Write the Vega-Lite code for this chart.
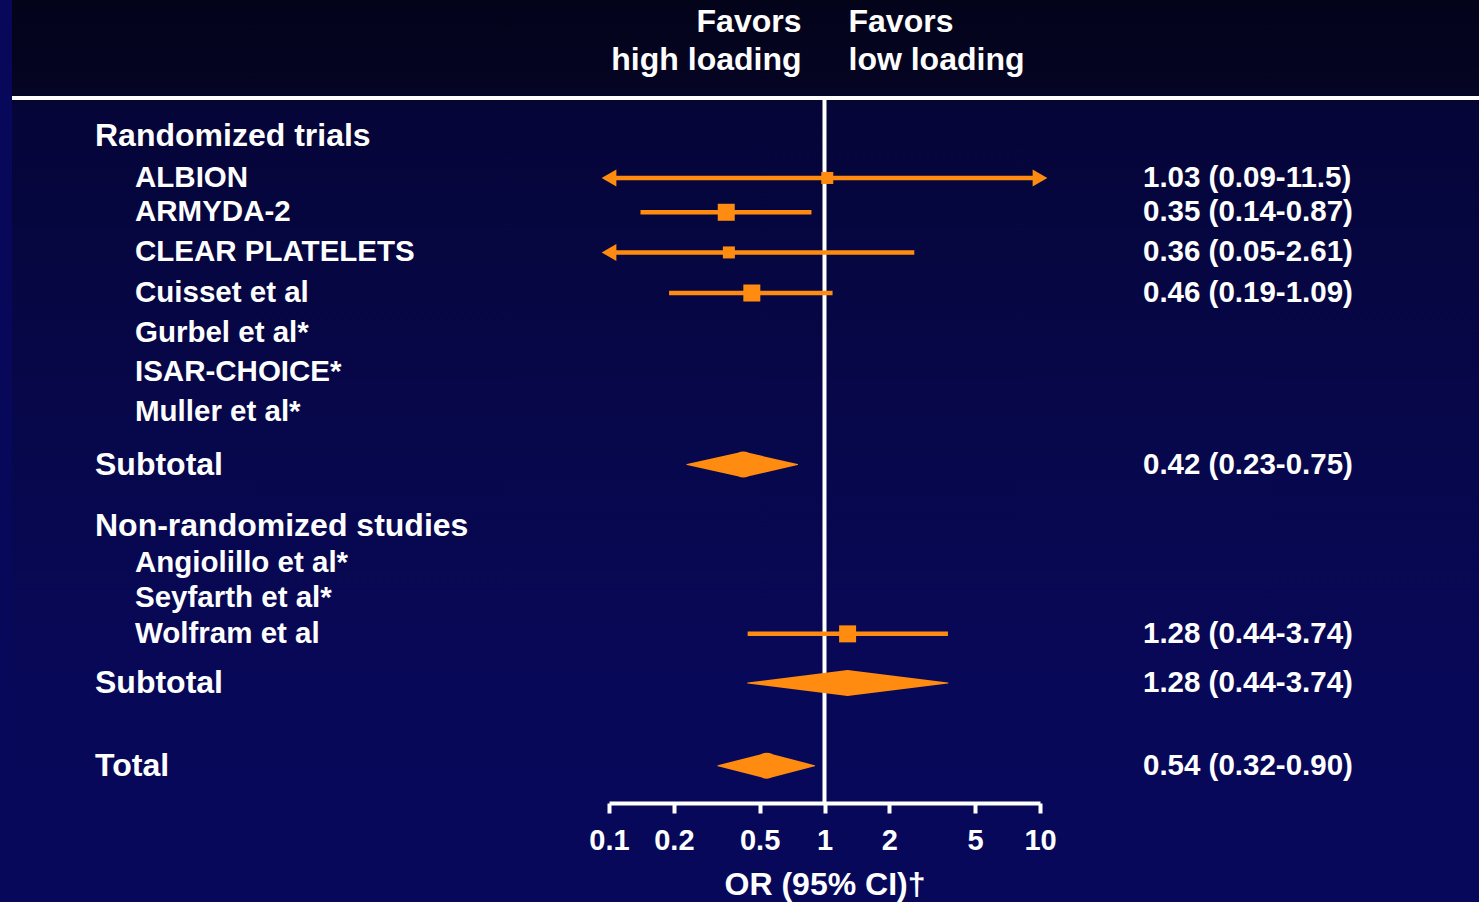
{
  "$schema": "https://vega.github.io/schema/vega-lite/v6.json",
  "width": 1467,
  "height": 803,
  "autosize": {"type": "none"},
  "padding": {"left": 12, "top": 0, "right": 0, "bottom": 99},
  "background": "#08085a",
  "config": {
    "view": {
      "stroke": null,
      "fill": {
        "gradient": "linear",
        "x1": 0, "y1": 0, "x2": 0, "y2": 1,
        "stops": [
          {"offset": 0, "color": "#03031a"},
          {"offset": 0.115, "color": "#050524"},
          {"offset": 0.13, "color": "#050538"},
          {"offset": 0.5, "color": "#07074a"},
          {"offset": 0.85, "color": "#080858"},
          {"offset": 1, "color": "#08085a"}
        ]
      }
    },
    "axisX": {
      "domainColor": "#ffffff",
      "domainWidth": 4,
      "tickColor": "#ffffff",
      "tickWidth": 4,
      "tickSize": 10,
      "labelColor": "#ffffff",
      "labelFont": "Liberation Sans",
      "labelFontWeight": "bold",
      "labelFontSize": 29,
      "labelPadding": 13,
      "labelFlush": false,
      "labelOverlap": false,
      "titleColor": "#ffffff",
      "titleFont": "Liberation Sans",
      "titleFontWeight": "bold",
      "titleFontSize": 32,
      "titlePadding": 14,
      "grid": false
    }
  },
  "datasets": {
    "rows": [
      {"label": "Randomized trials", "level": 0, "kind": "header", "pos": 0.97},
      {"label": "ALBION", "level": 1, "kind": "study", "pos": 2.05, "or": 1.03, "lo": 0.09, "hi": 11.5, "weight": 0.5, "ci": "1.03 (0.09-11.5)"},
      {"label": "ARMYDA-2", "level": 1, "kind": "study", "pos": 2.93, "or": 0.35, "lo": 0.14, "hi": 0.87, "weight": 1, "ci": "0.35 (0.14-0.87)"},
      {"label": "CLEAR PLATELETS", "level": 1, "kind": "study", "pos": 3.96, "or": 0.36, "lo": 0.05, "hi": 2.61, "weight": 0.5, "ci": "0.36 (0.05-2.61)"},
      {"label": "Cuisset et al", "level": 1, "kind": "study", "pos": 5.0, "or": 0.46, "lo": 0.19, "hi": 1.09, "weight": 1, "ci": "0.46 (0.19-1.09)"},
      {"label": "Gurbel et al*", "level": 1, "kind": "study", "pos": 6.02},
      {"label": "ISAR-CHOICE*", "level": 1, "kind": "study", "pos": 7.03},
      {"label": "Muller et al*", "level": 1, "kind": "study", "pos": 8.05},
      {"label": "Subtotal", "level": 0, "kind": "summary", "pos": 9.4, "or": 0.42, "lo": 0.23, "hi": 0.75, "ci": "0.42 (0.23-0.75)"},
      {"label": "Non-randomized studies", "level": 0, "kind": "header", "pos": 10.97},
      {"label": "Angiolillo et al*", "level": 1, "kind": "study", "pos": 11.93},
      {"label": "Seyfarth et al*", "level": 1, "kind": "study", "pos": 12.83},
      {"label": "Wolfram et al", "level": 1, "kind": "study", "pos": 13.74, "or": 1.28, "lo": 0.44, "hi": 3.74, "weight": 1, "ci": "1.28 (0.44-3.74)"},
      {"label": "Subtotal", "level": 0, "kind": "summary", "pos": 15.0, "or": 1.28, "lo": 0.44, "hi": 3.74, "ci": "1.28 (0.44-3.74)"},
      {"label": "Total", "level": 0, "kind": "summary", "pos": 17.12, "or": 0.54, "lo": 0.32, "hi": 0.9, "ci": "0.54 (0.32-0.90)"}
    ],
    "favors": [
      {"line": "Favors", "side": "high", "pos": -1.94},
      {"line": "high loading", "side": "high", "pos": -0.98},
      {"line": "Favors", "side": "low", "pos": -1.94},
      {"line": "low loading", "side": "low", "pos": -0.98}
    ]
  },
  "resolve": {"scale": {"x": "independent", "size": "independent"}},
  "layer": [
    {
      "data": {"values": [{"linepos": 0}]},
      "mark": {"type": "rule", "color": "#ffffff", "strokeWidth": 4},
      "encoding": {
        "y": {"field": "linepos", "type": "quantitative", "scale": {"domain": [-2.513, 18.077], "reverse": true, "nice": false, "zero": false}, "axis": null}
      }
    },
    {
      "data": {"name": "rows"},
      "mark": {"type": "text", "align": "left", "baseline": "middle", "font": "Liberation Sans", "fontWeight": "bold", "color": "#ffffff"},
      "encoding": {
        "x": {"field": "level", "type": "quantitative", "scale": {"domain": [0, 1], "range": [83, 123]}, "axis": null},
        "y": {"field": "pos", "type": "quantitative", "scale": {"domain": [-2.513, 18.077], "reverse": true, "nice": false, "zero": false}, "axis": null},
        "text": {"field": "label"},
        "size": {"field": "level", "type": "quantitative", "scale": {"domain": [0, 1], "range": [32, 29.5]}, "legend": null}
      }
    },
    {
      "resolve": {"scale": {"size": "independent"}},
      "layer": [
        {
          "data": {"values": [{"ref": 1, "top": 0, "bottom": 18.077}]},
          "mark": {"type": "rule", "color": "#ffffff", "strokeWidth": 4},
          "encoding": {
            "x": {"field": "ref", "type": "quantitative", "scale": {"type": "log", "domain": [0.1, 10], "range": [597, 1028], "clamp": true, "nice": false}, "axis": {"values": [0.1, 0.2, 0.5, 1, 2, 5, 10], "format": "~g", "title": "OR (95% CI)†"}},
            "y": {"field": "top", "type": "quantitative", "scale": {"domain": [-2.513, 18.077], "reverse": true, "nice": false, "zero": false}, "axis": null},
            "y2": {"field": "bottom"}
          }
        },
        {
          "data": {"name": "favors"},
          "transform": [{"filter": "datum.side == 'high'"}],
          "mark": {"type": "text", "align": "right", "baseline": "middle", "dx": -23, "font": "Liberation Sans", "fontWeight": "bold", "fontSize": 32, "color": "#ffffff"},
          "encoding": {
            "x": {"datum": 1, "type": "quantitative", "axis": {"values": [0.1, 0.2, 0.5, 1, 2, 5, 10], "format": "~g", "title": "OR (95% CI)†"}},
            "y": {"field": "pos", "type": "quantitative", "axis": null},
            "text": {"field": "line"}
          }
        },
        {
          "data": {"name": "favors"},
          "transform": [{"filter": "datum.side == 'low'"}],
          "mark": {"type": "text", "align": "left", "baseline": "middle", "dx": 24, "font": "Liberation Sans", "fontWeight": "bold", "fontSize": 32, "color": "#ffffff"},
          "encoding": {
            "x": {"datum": 1, "type": "quantitative", "axis": {"values": [0.1, 0.2, 0.5, 1, 2, 5, 10], "format": "~g", "title": "OR (95% CI)†"}},
            "y": {"field": "pos", "type": "quantitative", "axis": null},
            "text": {"field": "line"}
          }
        },
        {
          "data": {"name": "rows"},
          "transform": [{"filter": "datum.kind == 'study' && isValid(datum.or)"}],
          "mark": {"type": "rule", "color": "#ff8c10", "strokeWidth": 4.5},
          "encoding": {
            "x": {"field": "lo", "type": "quantitative", "axis": {"values": [0.1, 0.2, 0.5, 1, 2, 5, 10], "format": "~g", "title": "OR (95% CI)†"}},
            "x2": {"field": "hi"},
            "y": {"field": "pos", "type": "quantitative", "axis": null}
          }
        },
        {
          "data": {"name": "rows"},
          "transform": [{"filter": "datum.kind == 'study' && isValid(datum.lo) && datum.lo < 0.1"}],
          "mark": {"type": "point", "shape": "triangle-left", "filled": true, "opacity": 1, "color": "#ff8c10", "size": 290},
          "encoding": {
            "x": {"field": "lo", "type": "quantitative", "axis": {"values": [0.1, 0.2, 0.5, 1, 2, 5, 10], "format": "~g", "title": "OR (95% CI)†"}},
            "y": {"field": "pos", "type": "quantitative", "axis": null}
          }
        },
        {
          "data": {"name": "rows"},
          "transform": [{"filter": "datum.kind == 'study' && isValid(datum.hi) && datum.hi > 10"}],
          "mark": {"type": "point", "shape": "triangle-right", "filled": true, "opacity": 1, "color": "#ff8c10", "size": 290},
          "encoding": {
            "x": {"field": "hi", "type": "quantitative", "axis": {"values": [0.1, 0.2, 0.5, 1, 2, 5, 10], "format": "~g", "title": "OR (95% CI)†"}},
            "y": {"field": "pos", "type": "quantitative", "axis": null}
          }
        },
        {
          "data": {"name": "rows"},
          "transform": [{"filter": "datum.kind == 'study' && isValid(datum.or)"}],
          "mark": {"type": "point", "shape": "square", "filled": true, "opacity": 1, "color": "#ff8c10"},
          "encoding": {
            "x": {"field": "or", "type": "quantitative", "axis": {"values": [0.1, 0.2, 0.5, 1, 2, 5, 10], "format": "~g", "title": "OR (95% CI)†"}},
            "y": {"field": "pos", "type": "quantitative", "axis": null},
            "size": {"field": "weight", "type": "quantitative", "scale": {"domain": [0, 1], "range": [0, 289]}, "legend": null}
          }
        },
        {
          "data": {"name": "rows"},
          "transform": [
            {"filter": "datum.kind == 'summary'"},
            {"fold": ["lo", "or", "hi"], "as": ["key", "val"]}
          ],
          "mark": {"type": "trail", "color": "#ff8c10"},
          "encoding": {
            "x": {"field": "val", "type": "quantitative", "axis": {"values": [0.1, 0.2, 0.5, 1, 2, 5, 10], "format": "~g", "title": "OR (95% CI)†"}},
            "y": {"field": "pos", "type": "quantitative", "axis": null},
            "detail": {"field": "pos", "type": "nominal"},
            "order": {"field": "val", "type": "quantitative"},
            "size": {"field": "key", "type": "ordinal", "scale": {"type": "ordinal", "domain": ["lo", "or", "hi"], "range": [0, 26, 0]}, "legend": null}
          }
        }
      ]
    },
    {
      "data": {"name": "rows"},
      "transform": [{"filter": "isValid(datum.ci)"}],
      "mark": {"type": "text", "align": "left", "baseline": "middle", "font": "Liberation Sans", "fontWeight": "bold", "fontSize": 29.5, "color": "#ffffff"},
      "encoding": {
        "x": {"datum": 0, "type": "quantitative", "scale": {"domain": [0, 1], "range": [1131, 1467]}, "axis": null},
        "y": {"field": "pos", "type": "quantitative", "axis": null},
        "text": {"field": "ci"}
      }
    }
  ]
}
